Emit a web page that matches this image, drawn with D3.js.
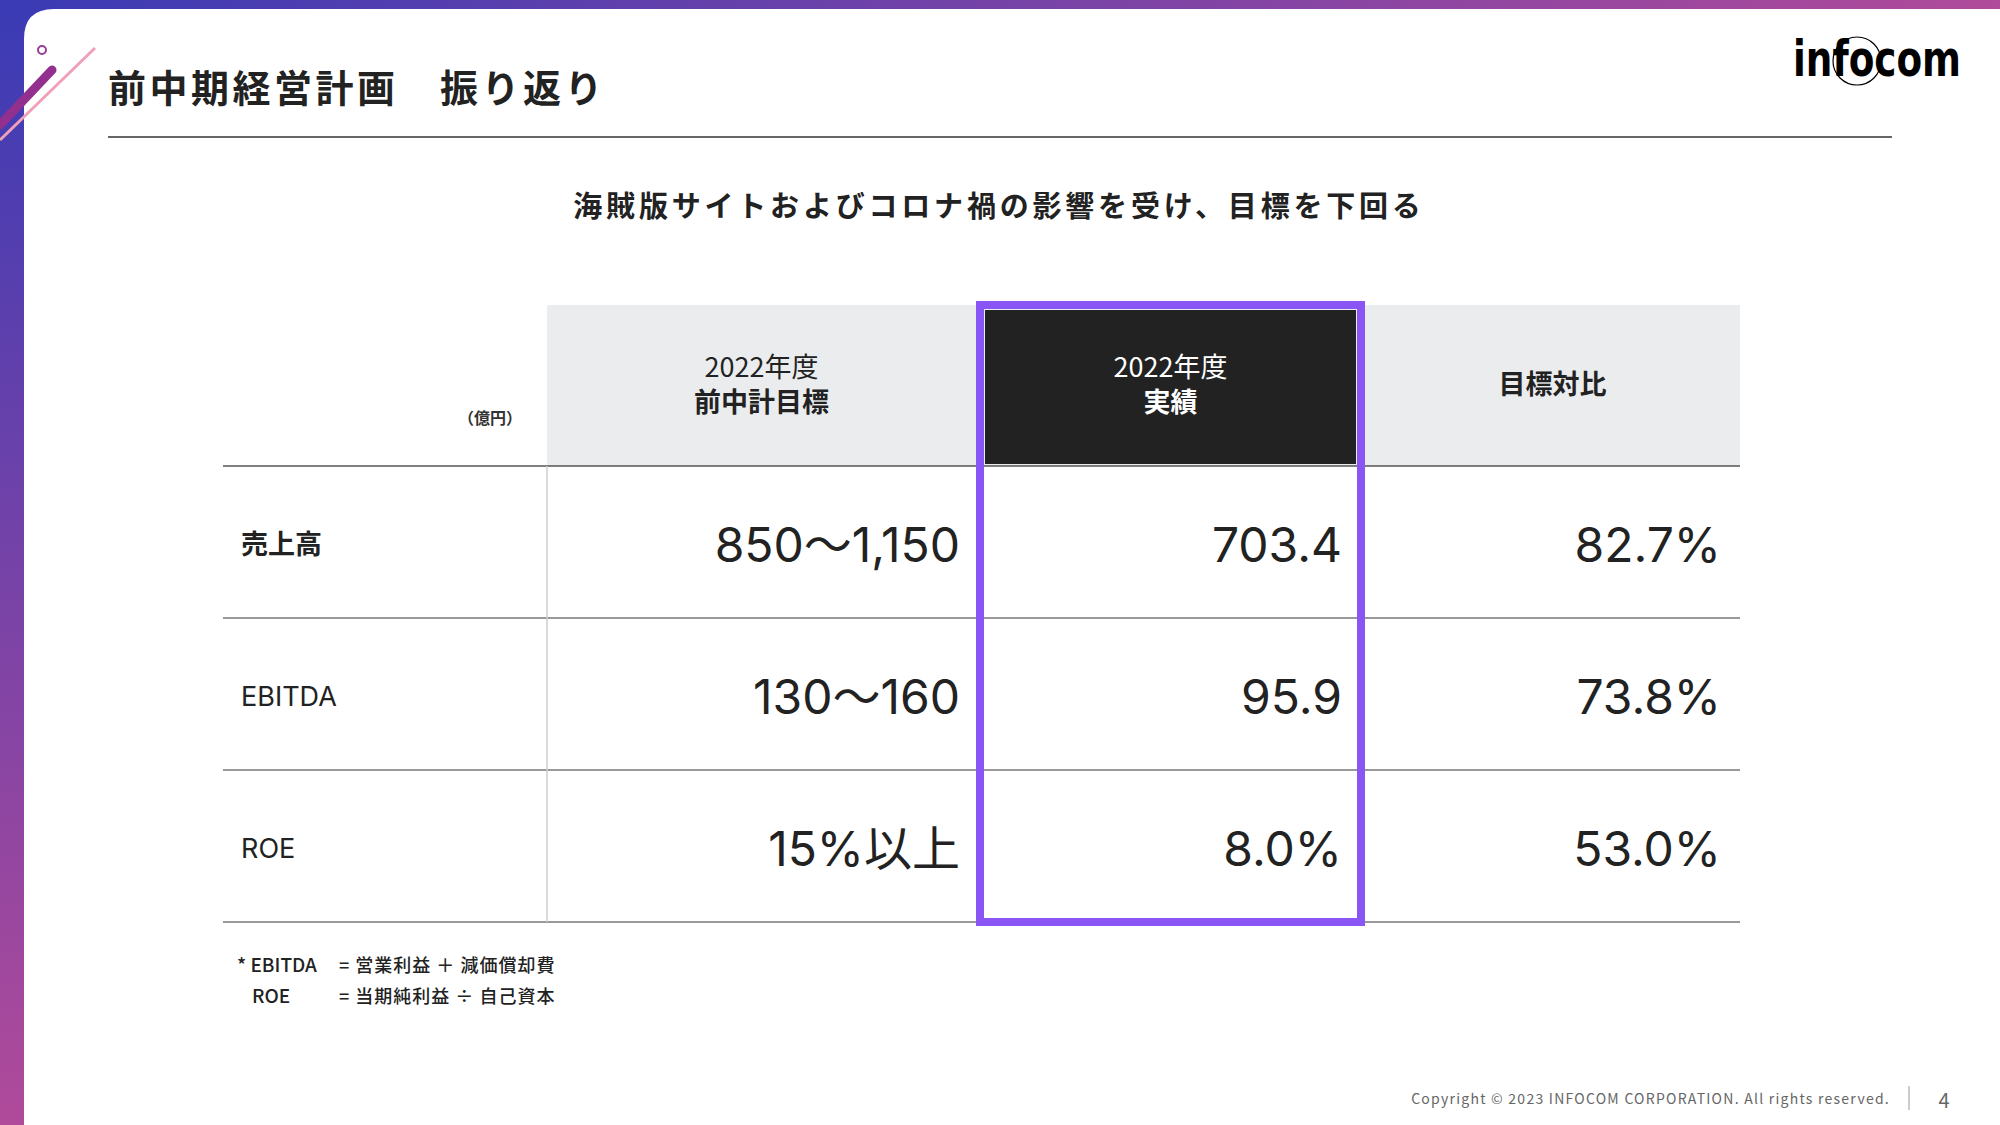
<!DOCTYPE html>
<html><head><meta charset="utf-8">
<script src="https://cdn.jsdelivr.net/npm/d3@7"></script>
<style>body{margin:0;background:#fff}svg{display:block}</style>
</head><body>
<div class="canva"></div>
<script>
// data
const rows = ['売上高', 'EBITDA', 'ROE']
const targets = ['850〜1,150', '130〜160', '15%以上']
const actuals = ['703.4', '95.9', '8.0%']
const ratios = ['82.7%', '73.8%', '53.0%']
const headers = [['2022年度', '前中計目標'], ['2022年度', '実績'], ['目標対比']]

const font = '"Noto Sans CJK JP", "Noto Sans", sans-serif'
const numFont = 'Inter, "Noto Sans CJK JP", sans-serif'
const svg = d3.select('.canva').append('svg')
    .attr('width', 2000).attr('height', 1125)

const defs = svg.append('defs')
const gTop = defs.append('linearGradient').attr('id', 'gtop')
gTop.append('stop').attr('offset', '0').attr('stop-color', '#3a3bb5')
gTop.append('stop').attr('offset', '1').attr('stop-color', '#b04a9a')
const gLeft = defs.append('linearGradient').attr('id', 'gleft').attr('x1', 0).attr('x2', 0).attr('y1', 0).attr('y2', 1)
gLeft.append('stop').attr('offset', '0').attr('stop-color', '#3a3bb5')
gLeft.append('stop').attr('offset', '1').attr('stop-color', '#b04a9a')

// frame
svg.append('rect').attr('width', 2000).attr('height', 1125).attr('fill', 'url(#gtop)')
svg.append('rect').attr('width', 24).attr('height', 1125).attr('fill', 'url(#gleft)')
svg.append('path').attr('d', 'M24,1125 V39 Q24,9 54,9 H2000 V1125 Z').attr('fill', '#fff')

// decoration
svg.append('circle').attr('cx', 42).attr('cy', 50).attr('r', 4).attr('fill', 'none').attr('stroke', '#9b3c94').attr('stroke-width', 2)
svg.append('line').attr('x1', 52).attr('y1', 70).attr('x2', 0).attr('y2', 125).attr('stroke', '#93308f').attr('stroke-width', 9).attr('stroke-linecap', 'round')
svg.append('line').attr('x1', 95).attr('y1', 48).attr('x2', 0).attr('y2', 140).attr('stroke', '#f0a0b8').attr('stroke-width', 3)

// title
svg.append('text').text('前中期経営計画　振り返り')
    .attr('x', 108).attr('y', 102).attr('font-family', font).attr('font-size', 38)
    .attr('font-weight', 700).attr('fill', '#222').attr('letter-spacing', 3.5)
svg.append('line').attr('x1', 108).attr('x2', 1892).attr('y1', 137).attr('y2', 137)
    .attr('stroke', '#333').attr('stroke-width', 1.5)

// logo
const logo = svg.append('g')
logo.append('text').text('infocom').attr('x', 1793).attr('y', 76)
    .attr('font-family', 'DejaVu Sans, sans-serif').attr('font-weight', 700).attr('font-size', 50)
    .attr('textLength', 168).attr('lengthAdjust', 'spacingAndGlyphs').attr('fill', '#000')
logo.append('circle').attr('cx', 1857).attr('cy', 61).attr('r', 24).attr('fill', 'none').attr('stroke', '#000').attr('stroke-width', 1.2)

svg.append('text').text('海賊版サイトおよびコロナ禍の影響を受け、目標を下回る')
    .attr('x', 999).attr('y', 217).attr('text-anchor', 'middle').attr('letter-spacing', 3.8)
    .attr('font-family', font).attr('font-size', 29).attr('font-weight', 700).attr('fill', '#222')

// table scales
const colEdges = [223, 547, 976, 1365, 1740]
const y = d3.scaleBand().domain(rows).range([466, 922])
const headTop = 305, headBot = 466

svg.append('rect').attr('x', colEdges[1]).attr('y', headTop)
    .attr('width', colEdges[4] - colEdges[1]).attr('height', headBot - headTop).attr('fill', '#ebecee')
svg.append('rect').attr('x', 985).attr('y', 310).attr('width', 371).attr('height', 154).attr('fill', '#222')

headers.forEach((h, i) => {
    const cx = (colEdges[i + 1] + colEdges[i + 2]) / 2
    const dark = i === 1
    h.forEach((t, j) => {
        svg.append('text').text(t).attr('x', cx)
            .attr('y', 385 + (j - (h.length - 1) / 2) * 35 + 9)
            .attr('text-anchor', 'middle').attr('font-family', font).attr('font-size', 27)
            .attr('font-weight', j === 0 && h.length > 1 ? 400 : 700)
            .attr('fill', dark ? '#fff' : '#222')
    })
})
svg.append('text').text('（億円）').attr('x', 522).attr('y', 424).attr('text-anchor', 'end')
    .attr('font-family', font).attr('font-size', 16).attr('font-weight', 700).attr('fill', '#333')

// grid lines
svg.append('line').attr('x1', colEdges[0]).attr('x2', colEdges[4]).attr('y1', headBot).attr('y2', headBot)
    .attr('stroke', '#555').attr('stroke-width', 1.5)
svg.selectAll('.rl').data(rows).enter().append('line')
    .attr('x1', colEdges[0]).attr('x2', colEdges[4])
    .attr('y1', d => y(d) + y.bandwidth()).attr('y2', d => y(d) + y.bandwidth())
    .attr('stroke', '#777').attr('stroke-width', 1.5)
svg.append('line').attr('x1', colEdges[1]).attr('x2', colEdges[1]).attr('y1', headBot).attr('y2', 922)
    .attr('stroke', '#ccc').attr('stroke-width', 1.5)

// cells
const mid = d => y(d) + y.bandwidth() / 2
svg.selectAll('.lab').data(rows).enter().append('text').text(d => d)
    .attr('x', 241).attr('y', d => mid(d) + 12)
    .attr('font-family', (d, i) => i === 0 ? font : numFont).attr('font-size', 27).attr('font-weight', (d, i) => i === 0 ? 700 : 400).attr('fill', '#222')
const cols = [[targets, 960], [actuals, 1342], [ratios, 1721]]
cols.forEach(([vals, xr]) => {
    svg.selectAll(null).data(rows).enter().append('text')
        .text((d, i) => vals[i])
        .attr('x', xr).attr('y', d => mid(d) + 20).attr('text-anchor', 'end')
        .attr('font-family', numFont).attr('font-size', 48).attr('fill', '#222')
})

// highlight
svg.append('rect').attr('x', 980).attr('y', 305).attr('width', 381).attr('height', 617)
    .attr('fill', 'none').attr('stroke', '#8a55f5').attr('stroke-width', 8)

// footnote
const fn = [['* EBITDA', '= 営業利益 ＋ 減価償却費'], ['ROE', '= 当期純利益 ÷ 自己資本']]
fn.forEach((r, i) => {
    svg.append('text').text(r[0]).attr('x', i ? 252 : 237).attr('y', 972 + i * 31)
        .attr('font-family', font).attr('font-size', 19).attr('font-weight', 500).attr('fill', '#222')
    svg.append('text').text(r[1]).attr('x', 339).attr('y', 972 + i * 31).attr('letter-spacing', 1)
        .attr('font-family', font).attr('font-size', 18).attr('font-weight', 500).attr('fill', '#222')
})

// copyright
svg.append('text').text('Copyright © 2023 INFOCOM CORPORATION. All rights reserved.')
    .attr('x', 1890).attr('y', 1104).attr('text-anchor', 'end').attr('letter-spacing', 1.25)
    .attr('font-family', font).attr('font-size', 14).attr('fill', '#666')
svg.append('line').attr('x1', 1909).attr('x2', 1909).attr('y1', 1086).attr('y2', 1110).attr('stroke', '#999')
svg.append('text').text('4').attr('x', 1944).attr('y', 1108).attr('text-anchor', 'middle')
    .attr('font-family', font).attr('font-size', 20).attr('fill', '#666')
</script>
</body></html>
